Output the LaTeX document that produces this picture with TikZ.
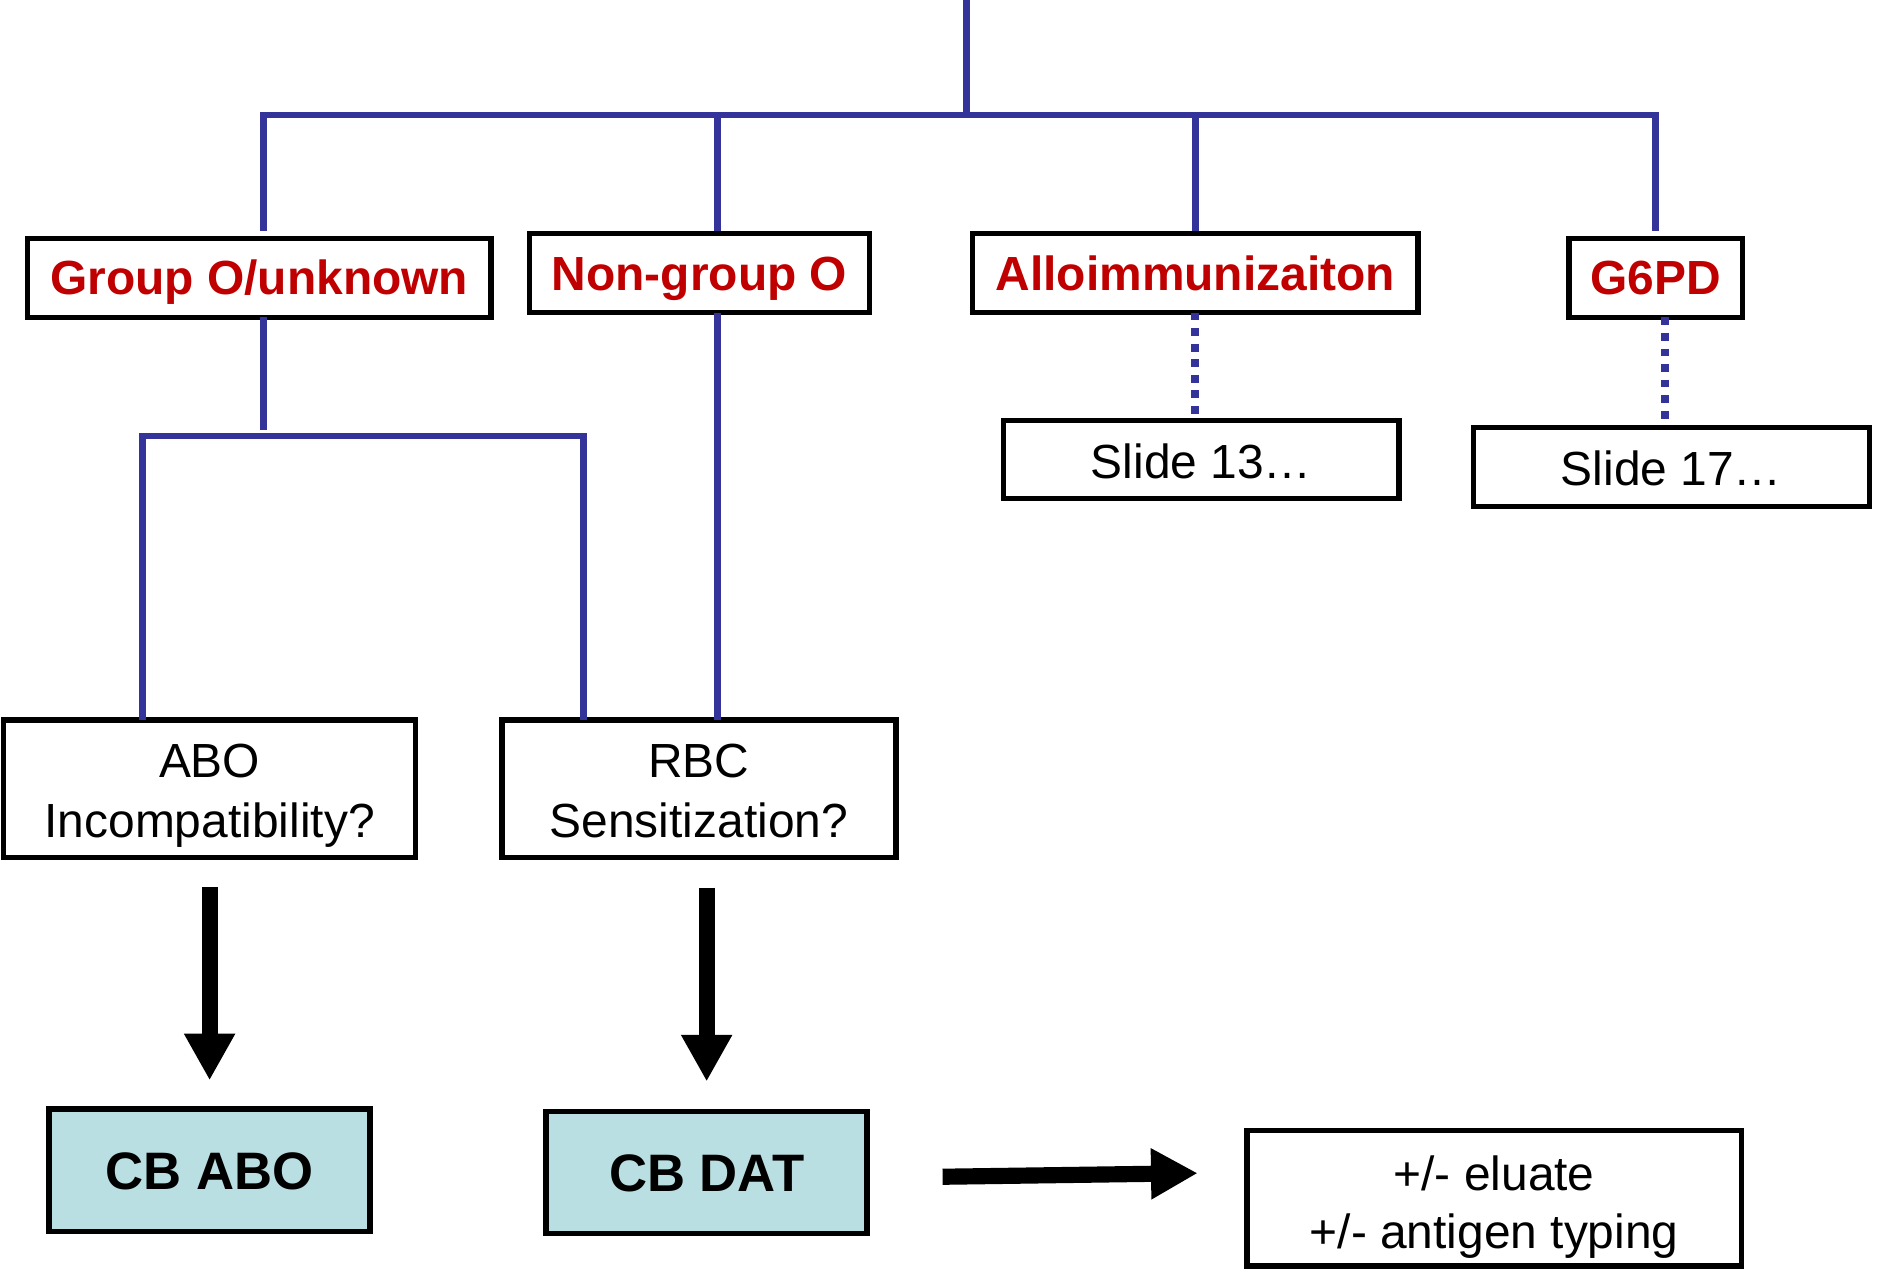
\documentclass[tikz,border=0pt]{standalone}
\usepackage{fontspec}
\setmainfont{Liberation Sans}
\usetikzlibrary{arrows.meta,calc}
\definecolor{tblue}{RGB}{51,51,153}
\definecolor{tred}{RGB}{192,0,0}
\definecolor{tcyan}{RGB}{185,223,226}
\begin{document}
\begin{tikzpicture}[x=1pt,y=-1pt,
 box/.style={draw=black, line width=4.5pt, inner sep=0pt, outer sep=0pt, fill=white, align=center, font=\fontsize{40}{50}\selectfont, text height=28.6pt, text depth=0pt},
 twoline/.style={box, text height=84.6pt, text depth=3pt},
 head/.style={box, text=tred, font=\fontsize{40}{48}\selectfont\bfseries, minimum height=66pt},
 result/.style={box, fill=tcyan, font=\fontsize{44}{52}\selectfont\bfseries, text height=31.5pt},
 tree/.style={draw=tblue, line width=5.5pt},
 link/.style={draw=tblue, line width=6.5pt, dash pattern=on 6.5pt off 6.5pt},
 bigarrow/.style={draw=black, line width=13.5pt, -{Triangle[width=40pt,length=39pt]}}]
\useasboundingbox (0,0) rectangle (1568,1060);
\fill[white] (0,0) rectangle (1568,1060);

% nodes
\node[head, minimum width=387pt] (g1) at (216.5,232) {Group O/unknown};
\node[head, minimum width=284pt] (g2) at (584,228) {Non-group O};
\node[head, minimum width=372pt] (g3) at (998,228) {Alloimmunizaiton};
\node[head, minimum width=145pt] (g4) at (1382.5,232) {G6PD};
\node[box, text height=32.6pt, minimum width=330pt, minimum height=65pt] (s13) at (1003,383.5) {Slide 13…};
\node[box, text height=30.6pt, minimum width=331pt, minimum height=66pt] (s17) at (1395.5,390) {Slide 17…};
\node[twoline, minimum width=344pt, minimum height=115pt] (abo) at (175,658.5) {ABO\\Incompatibility?};
\node[twoline, minimum width=329pt, minimum height=115pt] (rbc) at (583.5,658.5) {RBC\\Sensitization?};
\node[result, minimum width=268pt, minimum height=102pt] (cbabo) at (175,977) {CB ABO};
\node[result, minimum width=268pt, minimum height=102pt] (cbdat) at (590,979) {CB DAT};
\node[twoline, font=\fontsize{40}{48}\selectfont, text height=88.6pt, text depth=5pt, minimum width=413pt, minimum height=113pt] (elu) at (1247.5,1000.5) {+/- eluate\\+/- antigen typing};

% tree coordinates
\coordinate (top) at (807,0);
\coordinate (bl) at (220,96);
\coordinate (br) at (1382,96);
\coordinate (d2) at (599,96);
\coordinate (d3) at (998,96);
\coordinate (d4) at (1390,96);
\coordinate (m) at (220,364);
\coordinate (ml) at (119,364);
\coordinate (mr) at (487,364);

\draw[tree] (top) -- (top |- bl);
\draw[tree, line join=miter] ($(bl |- g1.north)+(0,-6)$) -- (bl) -- (br) -- ($(br |- g4.north)+(0,-6)$);
\draw[tree] (d2) -- ($(d2 |- g2.north)+(0,-2)$);
\draw[tree] (d3) -- ($(d3 |- g3.north)+(0,-2)$);
\draw[tree] (m |- g1.south) -- ($(m)+(0,-5)$);
\draw[tree, line join=miter] (ml |- abo.north) -- (ml) -- (mr) -- (mr |- rbc.north);
\draw[tree] (d2 |- g2.south) -- (d2 |- rbc.north);
\draw[link] (d3 |- g3.south) -- ($(d3 |- s13.north)+(0,-4)$);
\draw[link] (d4 |- g4.south) -- ($(d4 |- s17.north)+(0,-4)$);

% arrows
\draw[bigarrow] ($(abo.south)+(0,24.5)$) -- ($(cbabo.north)+(0,-24)$);
\draw[bigarrow] ($(rbc.south -| cbdat.north)+(0,25)$) -- ($(cbdat.north)+(0,-25)$);
\draw[bigarrow] ($(cbdat.east)+(63,3.5)$) -- ($(elu.west)+(-41,-21)$);
\end{tikzpicture}
\end{document}
